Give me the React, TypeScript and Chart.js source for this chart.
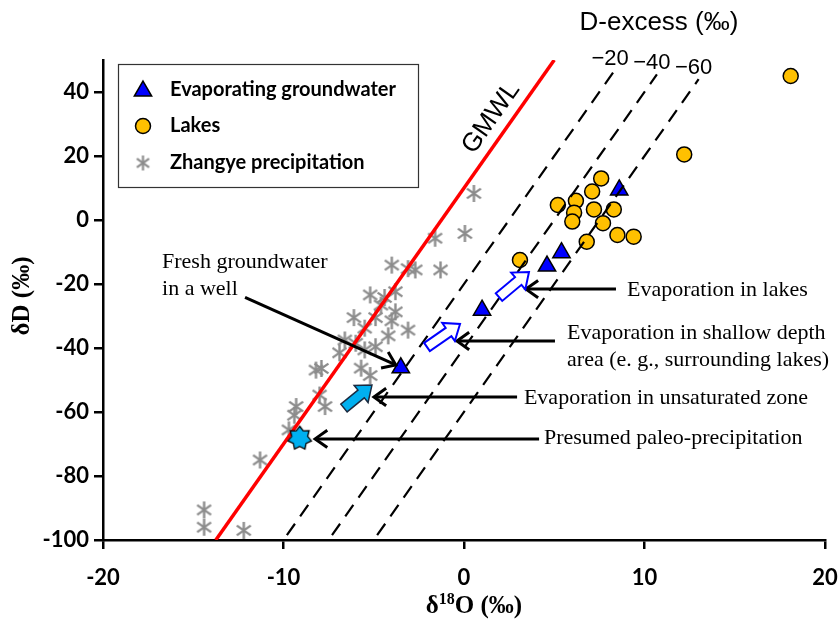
import React, { useEffect, useRef } from "react";
import { Chart, registerables } from "chart.js";
Chart.register(...registerables);

// ---------- data ----------
const xTicks = [-20, -10, 0, 10, 20];
const yTicks = [-100, -80, -60, -40, -20, 0, 20, 40];
const xMin = -20, xMax = 20, yMin = -100, yMax = 50;

// Zhangye precipitation (δ18O, δD)
const precipO = [0.55, 0.05, -1.6, -4.0, -3.1, -2.7, -1.3, -5.2, -3.8, -4.4, -4.6, -3.8, -4.0, -6.1, -4.9, -5.5, -3.1, -4.2, -6.9, -5.5, -6.0, -6.6, -4.9, -8.2, -7.9, -5.7, -5.2, -8.0, -7.7, -9.3, -9.4, -9.7, -11.3, -14.4, -14.4, -12.2];
const precipD = [8.3, -4.2, -5.7, -14.1, -15.2, -15.6, -15.6, -23.4, -22.4, -24.2, -26.6, -28.7, -31.5, -30.5, -30.5, -33.8, -34.4, -36.2, -41.5, -40.6, -38.5, -37.5, -39.6, -46.9, -46.4, -46.3, -48.6, -54.7, -58.3, -58.3, -61.0, -65.6, -75.0, -90.6, -96.0, -97.0];

// Lakes
const lakeO = [18.1, 12.2, 7.6, 7.1, 5.2, 6.2, 6.1, 6.0, 7.2, 8.3, 7.7, 8.5, 9.4, 6.8, 3.1];
const lakeD = [45.0, 20.5, 13.0, 8.9, 4.7, 6.0, 2.3, -0.5, 3.3, 3.3, -1.0, -4.7, -5.2, -6.8, -12.5];

// Evaporating groundwater
const gwO = [8.6, 5.4, 4.6, 1.0, -3.5];
const gwD = [9.4, -10.2, -14.4, -28.2, -46.2];

// Presumed paleo-precipitation
const paleoO = [-9.1];
const paleoD = [-68.2];

// GMWL (δD = 8 δ18O + 10) end points
const gmwlO = [-13.75, 5];
const gmwlD = [-100, 50];

// D-excess reference lines
const dExcess = [-20, -40, -60];
const dExcessLabels = ["\u221220", "\u221240", "\u221260"];
const dLineBottom = -98.5;
const dLineTops = [47, 45.5, 44];

// Callout arrows [fromO, fromD, toO, toD]
const callArrows = [
  [-12.13, -24.2, -3.78, -45.3],
  [8.42, -21.6, 3.43, -21.6],
  [5.04, -37.8, -0.39, -37.8],
  [2.94, -55.3, -4.99, -55.3],
  [4.16, -68.4, -8.25, -68.4],
];
const callTexts = [
  ["Fresh groundwater", "in a well"],
  ["Evaporation in lakes"],
  ["Evaporation in shallow depth", "area (e. g., surrounding lakes)"],
  ["Evaporation in unsaturated zone"],
  ["Presumed paleo-precipitation"],
];
const callTextPos = [
  [-16.73, -13.1],
  [9.03, -21.9],
  [5.71, -35.3],
  [3.32, -55.6],
  [4.43, -68.1],
];

// Process (block) arrows [tailO, tailD, tipO, tipD]
const blockArrows = [
  [-6.65, -58.75, -5.1, -51.6],
  [-2.05, -39.7, -0.22, -32.5],
  [1.94, -24.1, 3.6, -16.25],
];
const blockFilled = [true, false, false];

const gmwlLabelPos = [1.5, 31.9];
const dTitlePos = [10.8, 61.5];

// ---------- marker images ----------
function makeAsterisk(size: number, color: string, lw: number) {
  const c = document.createElement("canvas");
  c.width = size; c.height = size;
  const g = c.getContext("2d")!;
  g.strokeStyle = color; g.lineWidth = lw;
  const cx = size / 2, r = size / 2 - 1;
  [90, 35, 145].forEach((a) => {
    const t = (a * Math.PI) / 180;
    g.beginPath();
    g.moveTo(cx - r * Math.cos(t), cx - r * Math.sin(t));
    g.lineTo(cx + r * Math.cos(t), cx + r * Math.sin(t));
    g.stroke();
  });
  return c;
}
function makeStar(size: number) {
  const c = document.createElement("canvas");
  c.width = size; c.height = size;
  const g = c.getContext("2d")!;
  const cx = size / 2, ro = size / 2 - 1.5, ri = ro * 0.68, n = 7;
  g.beginPath();
  for (let i = 0; i < n * 2; i++) {
    const r = i % 2 === 0 ? ro : ri;
    const t = -Math.PI / 2 + (i * Math.PI) / n;
    const px = cx + r * Math.cos(t), py = cx + r * Math.sin(t);
    if (i === 0) g.moveTo(px, py); else g.lineTo(px, py);
  }
  g.closePath();
  g.fillStyle = "#00b0f0"; g.fill();
  g.strokeStyle = "#000"; g.lineWidth = 1.3; g.stroke();
  return c;
}

const pts = (xs: number[], ys: number[]) => xs.map((x, i) => ({ x, y: ys[i] }));

export default function App() {
  const ref = useRef<HTMLCanvasElement>(null);
  useEffect(() => {
    document.body.style.margin = "0";
    const asterisk = makeAsterisk(19, "#8c8c8c", 2.4);
    const legendAsterisk = makeAsterisk(17, "#8c8c8c", 2.2);
    const star = makeStar(27);

    const overlay = {
      id: "overlay",
      afterDatasetsDraw(chart: any) {
        const { ctx, chartArea } = chart;
        const sx = chart.scales.x, sy = chart.scales.y;
        const px = (v: number) => sx.getPixelForValue(v);
        const py = (v: number) => sy.getPixelForValue(v);
        ctx.save();

        // callout arrows
        ctx.strokeStyle = "#000"; ctx.lineWidth = 3; ctx.lineCap = "butt";
        callArrows.forEach(([a, b, c, d]) => {
          const x1 = px(a), y1 = py(b), x2 = px(c), y2 = py(d);
          ctx.beginPath(); ctx.moveTo(x1, y1); ctx.lineTo(x2, y2); ctx.stroke();
          const ang = Math.atan2(y2 - y1, x2 - x1);
          const hl = 15, spread = 0.62;
          ctx.beginPath();
          ctx.moveTo(x2 - hl * Math.cos(ang - spread), y2 - hl * Math.sin(ang - spread));
          ctx.lineTo(x2, y2);
          ctx.lineTo(x2 - hl * Math.cos(ang + spread), y2 - hl * Math.sin(ang + spread));
          ctx.stroke();
        });

        // block arrows
        blockArrows.forEach(([a, b, c, d], i) => {
          const x1 = px(a), y1 = py(b), x2 = px(c), y2 = py(d);
          const ang = Math.atan2(y2 - y1, x2 - x1);
          const L = Math.hypot(x2 - x1, y2 - y1);
          const sw = 5, hw = 11, hl = 14;
          ctx.save();
          ctx.translate(x1, y1); ctx.rotate(ang);
          ctx.beginPath();
          ctx.moveTo(0, -sw); ctx.lineTo(L - hl, -sw); ctx.lineTo(L - hl, -hw);
          ctx.lineTo(L, 0); ctx.lineTo(L - hl, hw); ctx.lineTo(L - hl, sw);
          ctx.lineTo(0, sw); ctx.closePath();
          if (blockFilled[i]) {
            ctx.fillStyle = "#00b0f0"; ctx.fill();
            ctx.strokeStyle = "#1a2a40"; ctx.lineWidth = 1.5; ctx.stroke();
          } else {
            ctx.fillStyle = "#fff"; ctx.fill();
            ctx.strokeStyle = "#0000ff"; ctx.lineWidth = 2; ctx.stroke();
          }
          ctx.restore();
        });

        // callout texts
        ctx.fillStyle = "#000";
        ctx.font = "22px 'Liberation Serif'";
        ctx.textAlign = "left"; ctx.textBaseline = "middle";
        callTexts.forEach((lines, i) => {
          const x0 = px(callTextPos[i][0]), y0 = py(callTextPos[i][1]);
          lines.forEach((t, j) => ctx.fillText(t, x0, y0 + j * 27));
        });

        // GMWL label
        const ang = Math.atan2(py(gmwlD[1]) - py(gmwlD[0]), px(gmwlO[1]) - px(gmwlO[0]));
        ctx.save();
        ctx.translate(px(gmwlLabelPos[0]), py(gmwlLabelPos[1]));
        ctx.rotate(ang);
        ctx.font = "26px 'Liberation Sans'";
        ctx.textAlign = "center";
        ctx.fillText("GMWL", 0, 0);
        ctx.restore();

        // D-excess title and labels
        ctx.font = "26px 'Liberation Sans'";
        ctx.textAlign = "center";
        ctx.fillText("D-excess (\u2030)", px(dTitlePos[0]), py(dTitlePos[1]));
        ctx.font = "22px 'Liberation Sans'";
        dExcess.forEach((d, i) => {
          const top = dLineTops[i];
          ctx.fillText(dExcessLabels[i], px((top - d) / 8) - 5, py(top) - 11);
        });

        // legend
        const lx = chartArea.left + 15, ly = chartArea.top + 4;
        ctx.strokeStyle = "#333"; ctx.lineWidth = 1.2;
        ctx.strokeRect(lx + 0.5, ly + 0.5, 300, 123);
        const mx = lx + 25, tx = lx + 52;
        const rows = [ly + 26, ly + 62, ly + 99];
        // triangle
        ctx.beginPath();
        const r = 10;
        for (let k = 0; k < 3; k++) {
          const t = -Math.PI / 2 + (k * 2 * Math.PI) / 3;
          const X = mx + r * Math.cos(t), Y = rows[0] + 1 + r * Math.sin(t);
          if (k === 0) ctx.moveTo(X, Y); else ctx.lineTo(X, Y);
        }
        ctx.closePath();
        ctx.fillStyle = "#0000ff"; ctx.fill();
        ctx.strokeStyle = "#000"; ctx.lineWidth = 1.5; ctx.stroke();
        // circle
        ctx.beginPath(); ctx.arc(mx, rows[1], 7.5, 0, Math.PI * 2);
        ctx.fillStyle = "#ffc000"; ctx.fill(); ctx.stroke();
        // asterisk
        ctx.drawImage(legendAsterisk, mx - 8.5, rows[2] - 8.5);
        ctx.fillStyle = "#000";
        ctx.font = "bold 20px Lato";
        ctx.textAlign = "left"; ctx.textBaseline = "middle";
        const labels = ["Evaporating groundwater", "Lakes", "Zhangye precipitation"];
        labels.forEach((t, k) => ctx.fillText(t, tx, rows[k]));

        // axis titles
        ctx.font = "bold 25px 'Liberation Serif'";
        ctx.save();
        ctx.translate(chartArea.left - 80, (chartArea.top + chartArea.bottom) / 2 - 4);
        ctx.rotate(-Math.PI / 2);
        ctx.textAlign = "center";
        ctx.fillText("\u03b4D (\u2030)", 0, 0);
        ctx.restore();

        const big = "bold 25px 'Liberation Serif'", small = "bold 16px 'Liberation Serif'";
        ctx.font = big; const w1 = ctx.measureText("\u03b4").width; const w3 = ctx.measureText("O (\u2030)").width;
        ctx.font = small; const w2 = ctx.measureText("18").width;
        const cxT = (chartArea.left + chartArea.right) / 2 + 10;
        const yT = chartArea.bottom + 67;
        let xs = cxT - (w1 + w2 + w3) / 2;
        ctx.textAlign = "left";
        ctx.font = big; ctx.fillText("\u03b4", xs, yT); xs += w1;
        ctx.font = small; ctx.fillText("18", xs, yT - 7); xs += w2;
        ctx.font = big; ctx.fillText("O (\u2030)", xs, yT);

        ctx.restore();
      },
    };

    const tickFont = { family: "Lato", weight: "bold" as const, size: 22 };
    const chart = new Chart(ref.current!, {
      type: "scatter",
      data: {
        datasets: [
          { label: "Presumed paleo-precipitation", data: pts(paleoO, paleoD), pointStyle: star as any, pointRadius: 13 },
          { label: "GMWL", data: pts(gmwlO, gmwlD), showLine: true, borderColor: "#ff0000", borderWidth: 3.5, pointRadius: 0 },
          ...dExcess.map((d, i) => ({
            label: "D-excess " + d,
            data: [
              { x: (dLineBottom - d) / 8, y: dLineBottom },
              { x: (dLineTops[i] - d) / 8, y: dLineTops[i] },
            ],
            showLine: true, borderColor: "#000", borderWidth: 2.2, borderDash: [14, 9], pointRadius: 0,
          })),
          { label: "Evaporating groundwater", data: pts(gwO, gwD), pointStyle: "triangle", pointRadius: 10, backgroundColor: "#0000ff", borderColor: "#000", borderWidth: 1.5 },
          { label: "Lakes", data: pts(lakeO, lakeD), pointStyle: "circle", pointRadius: 7.5, backgroundColor: "#ffc000", borderColor: "#000", borderWidth: 1.5 },
          { label: "Zhangye precipitation", data: pts(precipO, precipD), pointStyle: asterisk as any, pointRadius: 9 },
        ] as any,
      },
      options: {
        animation: false,
        responsive: false,
        events: [],
        layout: { padding: { top: 60, right: 13, left: 0, bottom: 0 } },
        plugins: { legend: { display: false }, tooltip: { enabled: false } },
        scales: {
          x: {
            type: "linear", min: xMin, max: xMax,
            afterBuildTicks: (s: any) => { s.ticks = xTicks.map((v) => ({ value: v })); },
            afterFit: (s: any) => { s.height = 85; s.paddingLeft = 0; s.paddingRight = 0; },
            ticks: { font: tickFont, color: "#000", padding: 16, autoSkip: false, maxRotation: 0 },
            grid: { drawOnChartArea: false, drawTicks: true, tickLength: 9, color: "#000", lineWidth: 2.5 },
            border: { color: "#000", width: 2.5 },
          },
          y: {
            type: "linear", min: yMin, max: yMax,
            afterBuildTicks: (s: any) => { s.ticks = yTicks.map((v) => ({ value: v })); },
            afterFit: (s: any) => { s.width = 103; s.paddingTop = 0; s.paddingBottom = 0; },
            ticks: { font: tickFont, color: "#000", padding: 5, autoSkip: false },
            grid: { drawOnChartArea: false, drawTicks: true, tickLength: 9, color: "#000", lineWidth: 2.5 },
            border: { color: "#000", width: 2.5 },
          },
        },
      },
      plugins: [overlay],
    });
    return () => chart.destroy();
  }, []);
  return (
    <div style={{ position: "absolute", left: 0, top: 0, width: 839, height: 625, background: "#fff" }}>
      <canvas ref={ref} width={839} height={625} />
    </div>
  );
}
